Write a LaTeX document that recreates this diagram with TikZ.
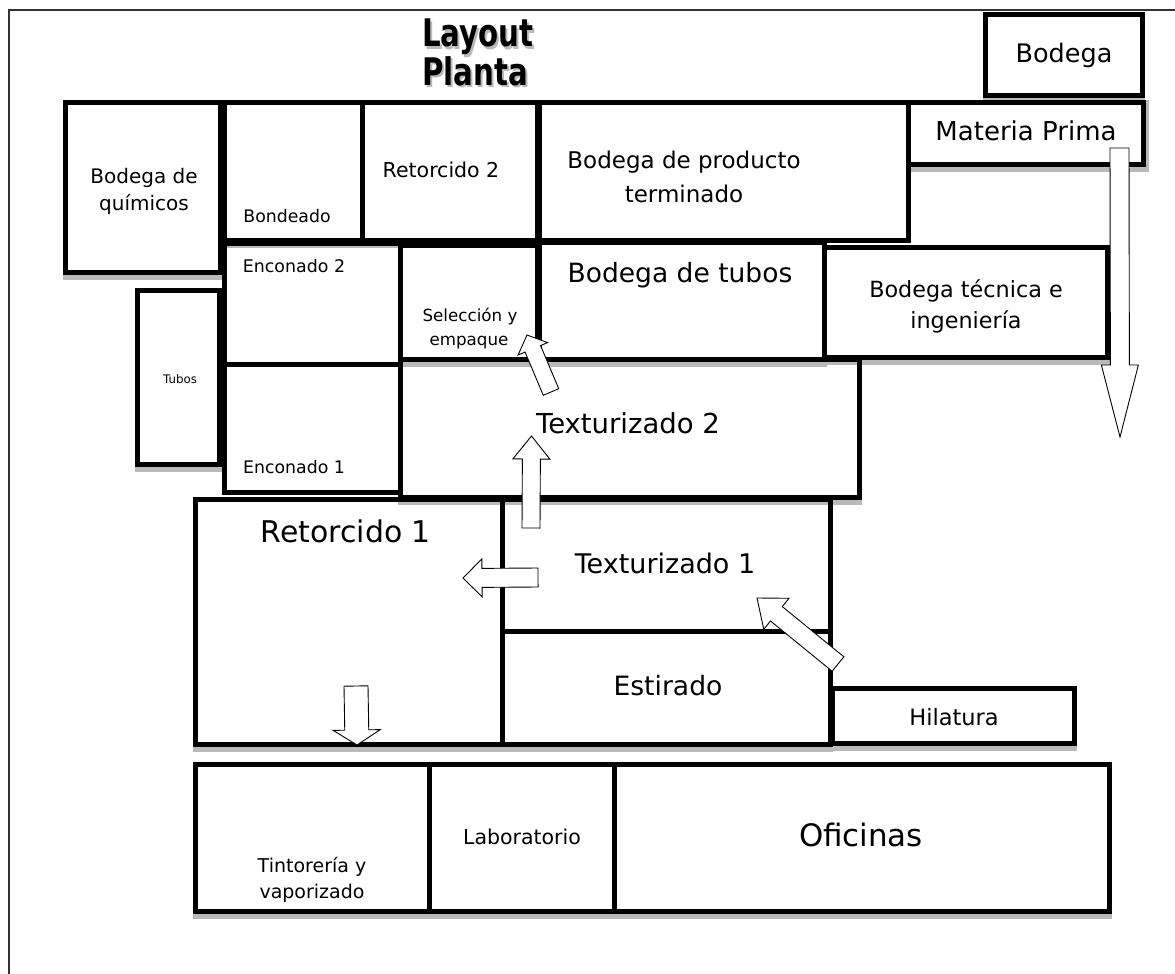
\documentclass[tikz,border=0pt]{standalone}
\usepackage{fontspec}
\setmainfont{DejaVu Sans}
\usetikzlibrary{calc}
\pgfdeclarelayer{bg}
\pgfsetlayers{bg,main}
\newcommand{\fsz}[1]{\fontsize{#1}{#1}\selectfont}
\newcommand{\room}[5]{\node[room, minimum width={#4-#2-5}, minimum height={#5-#3-5}] (#1) at ({(#2+#4)/2},{(#3+#5)/2}) {};}
\newcommand{\shad}[1]{\fill[shadowc] ([xshift=-2.5pt,yshift=-2.5pt]#1.south west) rectangle ([xshift=2.5pt,yshift=-7pt]#1.south east);}
\newcommand{\lbl}[5]{\node[lbltxt, font=\fsz{#2}] (#1) at (#3,#4) {#5};}
\newcommand{\barrow}[6]{%
  \coordinate (#1t) at #2; \coordinate (#1h) at #3;
  \coordinate (#1b) at ($(#1h)!#6pt!(#1t)$);
  \draw[blockarrow] ($(#1t)!#4pt!90:(#1h)$) -- ($(#1b)!#4pt!90:(#1h)$) -- ($(#1b)!#5pt!90:(#1h)$) -- (#1h)
    -- ($(#1b)!#5pt!-90:(#1h)$) -- ($(#1b)!#4pt!-90:(#1h)$) -- ($(#1t)!#4pt!-90:(#1h)$) -- cycle;}
\begin{document}
\begin{tikzpicture}[x=1pt,y=-1pt,
  room/.style={draw, line width=5pt, inner sep=0pt, outer sep=0pt},
  lbltxt/.style={inner sep=0pt, anchor=base},
  shadowc/.style={fill=gray!55},
  blockarrow/.style={draw, fill=white, line width=0.9pt, line join=miter}]
\useasboundingbox (0,0) rectangle (1175,974);
% frame
\draw[line width=1.5pt, black!80] (9,974) -- (9,10) -- (1175,10);
% title
\node[lbltxt, anchor=base west, text=gray!55] (titleS1) at (424,49) {\scalebox{0.77}[1]{\fsz{38}\bfseries Layout}};
\node[lbltxt, anchor=base west, text=gray!55] (titleS2) at (424,87) {\scalebox{0.77}[1]{\fsz{38}\bfseries Planta}};
\node[lbltxt, anchor=base west] (title1) at (422,47) {\scalebox{0.77}[1]{\fsz{38}\bfseries Layout}};
\node[lbltxt, anchor=base west] (title2) at (422,85) {\scalebox{0.77}[1]{\fsz{38}\bfseries Planta}};
% rooms
\room{bodega}{983}{12}{1145}{98}
\room{materia}{906}{100}{1146}{167}
\room{terminado}{537}{100}{911}{243}
\room{quimicos}{63}{100}{223}{275}
\room{bondeado}{222}{100}{365}{243}
\room{ret2}{360}{100}{540}{243}
\room{enc2}{222}{241}{403}{367}
\room{enc1}{222}{362}{403}{495}
\room{tubos}{135}{288}{222}{467}
\room{selec}{398}{243}{540}{362}
\room{btubos}{537}{240}{827}{362}
\room{btecnica}{822}{245}{1110}{360}
\room{text2}{398}{357}{862}{500}
\room{ret1}{193}{497}{505}{747}
\room{text1}{500}{497}{833}{634}
\room{estirado}{500}{629}{833}{747}
\room{hilatura}{830}{686}{1077}{746}
\room{tint}{193}{762}{432}{914}
\room{lab}{427}{762}{617}{914}
\room{ofic}{612}{762}{1112}{914}
% shadows
\begin{pgfonlayer}{bg}
\shad{bodega}\shad{materia}\shad{quimicos}\shad{bondeado}\shad{ret2}
\shad{tubos}\shad{selec}\shad{btubos}\shad{btecnica}\shad{text2}
\shad{ret1}\shad{estirado}\shad{hilatura}\shad{tint}\shad{lab}\shad{ofic}
\fill[shadowc] ([xshift=2.5pt,yshift=2.5pt]materia.north east) rectangle ([xshift=5.5pt,yshift=-7pt]materia.south east);
\end{pgfonlayer}
% labels
\lbl{tBodega}{25.5}{1064}{63}{Bodega}
\lbl{tMateria}{26}{1026}{140}{Materia Prima}
\lbl{tTerm1}{23}{684}{168}{Bodega de producto}
\lbl{tTerm2}{23}{684}{202}{terminado}
\lbl{tQuim1}{20}{144}{183}{Bodega de}
\lbl{tQuim2}{20}{144}{210}{químicos}
\lbl{tBond}{17.3}{287}{222}{Bondeado}
\lbl{tRet2}{20.5}{441}{177}{Retorcido 2}
\lbl{tEnc2}{17.4}{294}{272}{Enconado 2}
\lbl{tEnc1}{17.3}{294}{473}{Enconado 1}
\lbl{tTubos}{11.8}{180}{383}{Tubos}
\lbl{tSel1}{16.7}{470}{321}{Selección y}
\lbl{tSel2}{16.7}{469}{345}{empaque}
\lbl{tBTubos}{26.5}{680}{282}{Bodega de tubos}
\lbl{tBTec1}{22.3}{966}{297}{Bodega técnica e}
\lbl{tBTec2}{22.3}{966}{328}{ingeniería}
\lbl{tText2}{27.5}{628}{433}{Texturizado 2}
\lbl{tText1}{27}{665}{573}{Texturizado 1}
\lbl{tEst}{26.6}{668}{695}{Estirado}
\lbl{tRet1}{29.9}{346}{542}{Retorcido 1}
\lbl{tHil}{22.5}{954}{725}{Hilatura}
\lbl{tOfic}{30.9}{861}{846}{Oficinas}
\lbl{tLab}{20.5}{522}{844}{Laboratorio}
\lbl{tTint1}{19}{312}{872}{Tintorería y}
\lbl{tTint2}{19}{312}{898}{vaporizado}
% flow arrows
\barrow{aA}{(1119.5,148)}{(1120,437)}{9.5}{18.5}{72}
\barrow{aB}{(531,528)}{(531.5,436)}{9}{18.5}{23}
\barrow{aC}{(551,392)}{(527,335)}{8.4}{16}{15}
\barrow{aD}{(538,577.5)}{(463,578)}{9.5}{19}{19}
\barrow{aE}{(838,664)}{(757,598)}{9.3}{20}{25}
\barrow{aF}{(356,686)}{(357,745)}{12}{23.5}{15}
\end{tikzpicture}
\end{document}
